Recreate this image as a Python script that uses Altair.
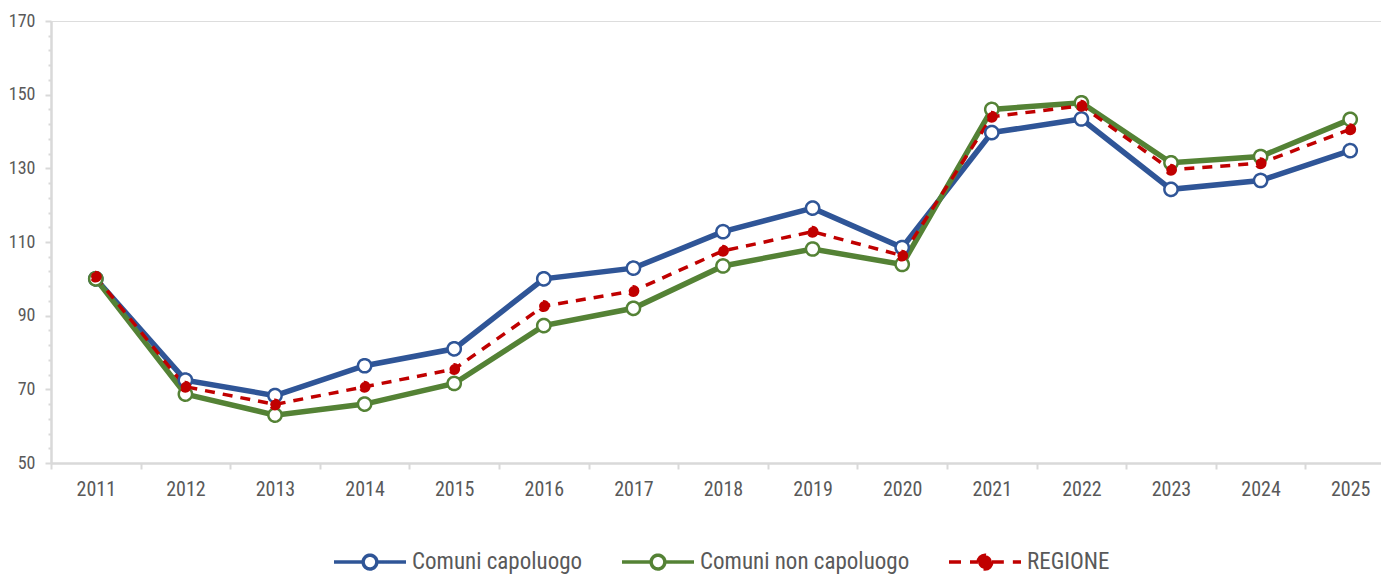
import altair as alt
import pandas as pd

years = ["2011", "2012", "2013", "2014", "2015", "2016", "2017", "2018",
         "2019", "2020", "2021", "2022", "2023", "2024", "2025"]
capoluogo = [100.0, 72.5, 68.3, 76.4, 81.0, 100.0, 102.9, 112.8, 119.2, 108.5,
             139.7, 143.4, 124.3, 126.7, 134.8]
non_capoluogo = [100.0, 68.7, 63.0, 66.0, 71.6, 87.3, 92.0, 103.5, 108.1, 103.9,
                 146.0, 147.8, 131.5, 133.2, 143.3]
regione = [100.6, 70.7, 65.9, 70.7, 75.5, 92.6, 96.7, 107.6, 112.8, 106.3,
           144.0, 147.0, 129.6, 131.4, 140.6]
series_names = ["Comuni capoluogo", "Comuni non capoluogo", "REGIONE"]
series_values = [capoluogo, non_capoluogo, regione]
colors = ["#2F5597", "#548235", "#C00000"]
fills = ["#FFFFFF", "#FFFFFF", "#C00000"]
y_ticks = [50, 54, 58, 62, 66, 70, 74, 78, 82, 86, 90, 94, 98, 102, 106, 110,
           114, 118, 122, 126, 130, 134, 138, 142, 146, 150, 154, 158, 162, 166, 170]

rows = []
for name, vals in zip(series_names, series_values):
    for yr, v in zip(years, vals):
        rows.append({"year": yr, "value": v, "series": name,
                     "marker": "dot" if name == "REGIONE" else "ring"})
df = pd.DataFrame(rows)

FONT = "Liberation Sans Narrow, Arial Narrow, Roboto Condensed, Liberation Sans, sans-serif"
TXT = "#595959"
AX = "#D9D9D9"

x_enc = alt.X(
    "year:N", sort=years,
    scale=alt.Scale(type="band", range=[0, 1344], paddingInner=0, paddingOuter=0),
    axis=alt.Axis(title=None, labelAngle=0, tickBand="extent", domainColor=AX,
                  domainWidth=2.5, tickColor=AX, tickWidth=2, tickSize=6,
                  labelFontSize=20, labelColor=TXT, labelFont=FONT,
                  labelPadding=10, labelOverlap=False, grid=False),
)
y_enc = alt.Y(
    "value:Q",
    scale=alt.Scale(domain=[50, 170], nice=False, zero=False),
    axis=alt.Axis(title=None, values=y_ticks,
                  labelExpr="datum.value % 20 == 10 ? datum.label : ''",
                  tickSize={"condition": {"test": "datum.value % 20 == 10", "value": 6}, "value": 3},
                  domainColor=AX, domainWidth=2.5, tickColor=AX, tickWidth=2,
                  labelFontSize=18, labelColor=TXT, labelFont=FONT,
                  labelPadding=10, labelOverlap=False, grid=False),
)

base = alt.Chart(df)

line_blue = base.transform_filter(alt.datum.series == series_names[0]).mark_line(
    strokeWidth=5.5, color=colors[0]).encode(x=x_enc, y=y_enc)
line_green = base.transform_filter(alt.datum.series == series_names[1]).mark_line(
    strokeWidth=5.5, color=colors[1]).encode(x=x_enc, y=y_enc)
line_red = base.transform_filter(alt.datum.series == series_names[2]).mark_line(
    strokeWidth=3.5, strokeDash=[10, 8], color=colors[2]).encode(x=x_enc, y=y_enc)

sym_path = ("M-1,0L-0.19,0M0.19,0L1,0"
            "M0.19,0A0.19,0.19,0,1,1,-0.19,0A0.19,0.19,0,1,1,0.19,0Z")
leg = alt.Legend(orient="none", legendX=281, legendY=503, direction="horizontal",
                 title=None, symbolType=sym_path, symbolSize=5184,
                 symbolStrokeWidth=3.5, labelFontSize=23, labelFont=FONT,
                 labelColor=TXT, labelOffset=4, labelLimit=400, columnPadding=32)

points = base.mark_point(opacity=1, fillOpacity=1, strokeWidth=2.5).encode(
    x=x_enc, y=y_enc,
    stroke=alt.Stroke("series:N", scale=alt.Scale(domain=series_names, range=colors), legend=leg),
    fill=alt.Fill("series:N", scale=alt.Scale(domain=series_names, range=fills), legend=leg),
    strokeDash=alt.StrokeDash("series:N",
                              scale=alt.Scale(domain=series_names, range=[[1, 0], [1, 0], [12, 9]]),
                              legend=leg),
    size=alt.Size("marker:N", scale=alt.Scale(domain=["ring", "dot"], range=[175, 90]), legend=None),
)

chart = alt.layer(line_blue, line_green, line_red, points).properties(
    width=1330, height=442,
    padding={"left": 43, "top": 13, "right": 0, "bottom": 111},
    autosize=alt.AutoSizeParams(type="none"),
).configure_view(stroke=None).configure(background="white")

chart.save("out.html", embed_options={"renderer": "svg", "actions": False})
